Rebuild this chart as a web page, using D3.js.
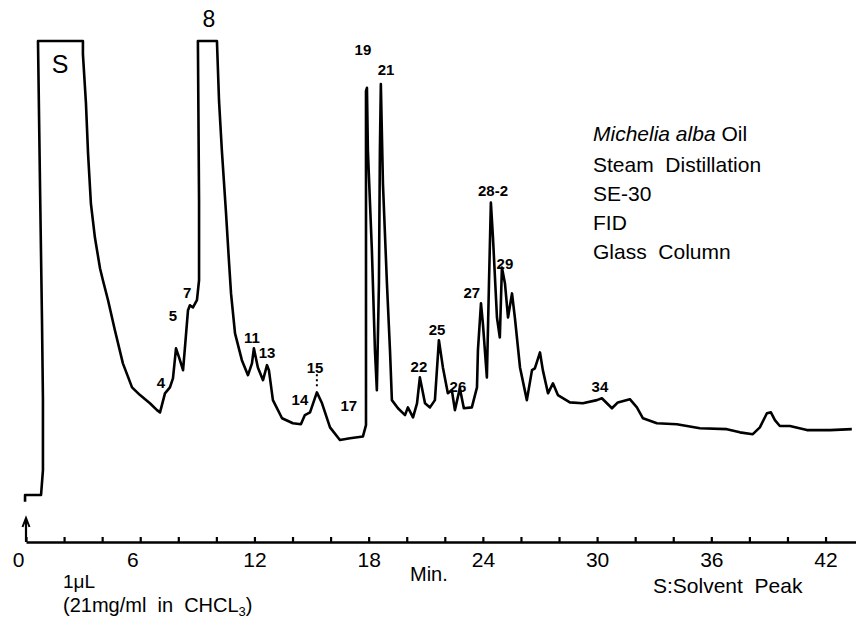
<!DOCTYPE html>
<html>
<head>
<meta charset="utf-8">
<script src="https://cdn.jsdelivr.net/npm/d3@7"></script>
<style>
	body { margin: 0; background: #fff; }
	svg text { font-family: "Liberation Sans", Arial, sans-serif; fill: #000; white-space: pre; }
</style>
</head>
<body>
<svg id="chart"></svg>
<script>
// retention time (min) and detector signal (% of recorder full scale)
const traceTime = [
	-0.05, -0.05, 0.79, 0.89, 0.89, 0.84, 0.74, 0.63, 2.99, 2.99, 3.15, 3.26, 3.41, 3.62, 3.89, 4.04,
	4.31, 4.67, 5.09, 5.57, 5.99, 6.51, 6.88, 7.04, 7.3, 7.56, 7.72, 7.88, 8.04, 8.25, 8.35, 8.51,
	8.61, 8.77, 8.98, 9.09, 9.09, 9.03, 10.03, 10.14, 10.29, 10.5, 10.66, 10.77, 10.98, 11.34, 11.66,
	11.87, 11.97, 12.18, 12.45, 12.66, 12.76, 12.97, 13.45, 14.02, 14.44, 14.65, 14.92, 15.28, 15.55,
	15.97, 16.49, 17.02, 17.7, 17.86, 17.86, 17.91, 17.96, 18.17, 18.33, 18.43, 18.54, 18.59, 18.64,
	18.75, 18.96, 19.12, 19.22, 19.54, 19.91, 20.06, 20.33, 20.54, 20.69, 20.96, 21.22, 21.48, 21.69,
	21.9, 22.16, 22.37, 22.53, 22.79, 23.0, 23.42, 23.69, 23.74, 23.9, 24.0, 24.21, 24.32, 24.42,
	24.53, 24.74, 24.89, 25.0, 25.16, 25.32, 25.53, 25.68, 25.95, 26.31, 26.58, 26.73, 27.0, 27.15,
	27.42, 27.68, 27.94, 28.57, 29.25, 29.99, 30.25, 30.78, 31.09, 31.72, 32.09, 32.41, 33.14, 34.19,
	35.4, 36.82, 37.5, 38.18, 38.55, 38.92, 39.13, 39.34, 39.6, 40.13, 41.02, 42.23, 43.38
]
const traceSignal = [
	-1.5, 0, 0, 5.5, 20.9, 38.5, 67.0, 100, 100, 97.1, 86.2, 75.2, 64.2, 56.7, 49.9, 47.3,
	42.9, 36.3, 29.0, 23.7, 22.0, 20.2, 18.7, 18.2, 22.4, 23.7, 25.7, 32.3, 30.3, 27.5, 32.5, 40.7,
	41.8, 41.3, 42.9, 47.3, 64.8, 100, 100, 86.8, 75.8, 62.6, 51.6, 44.4, 35.6, 29.7, 26.4,
	29.0, 32.3, 28.1, 25.3, 28.6, 27.5, 20.9, 16.9, 15.8, 15.6, 17.6, 18.2, 22.6, 20.2,
	14.9, 12.1, 12.5, 12.9, 15.4, 89.0, 89.7, 75.8, 53.8, 31.9, 23.1, 46.6, 75.8, 90.5,
	68.6, 46.6, 31.9, 20.9, 19.1, 17.6, 19.3, 17.1, 20.2, 25.9, 20.2, 19.3, 20.9, 34.1,
	28.1, 22.4, 23.1, 18.7, 23.5, 19.1, 19.3, 23.7, 31.9, 42.2, 37.8, 25.9, 46.6, 64.4,
	56.7, 39.1, 34.7, 50.1, 46.6, 39.1, 44.4, 39.1, 28.1, 20.9, 27.5, 27.9, 31.4, 27.5,
	22.4, 24.6, 22.0, 20.4, 20.2, 20.9, 21.3, 19.1, 20.4, 21.1, 19.3, 16.9, 15.8, 15.6,
	14.7, 14.5, 13.8, 13.4, 14.9, 18.0, 18.2, 16.5, 15.2, 15.2, 14.3, 14.3, 14.5
]

// peak numbers and where their labels sit (time, signal)
const peakNames = ['S', '8', '4', '5', '7', '11', '13', '14', '15', '17', '19', '21', '22', '25', '26', '27', '28-2', '29', '34']
const peakLabelTime = [1.79, 9.61, 7.09, 7.72, 8.46, 11.87, 12.66, 14.39, 15.18, 16.96, 17.7, 18.91, 20.64, 21.59, 22.69, 23.42, 24.53, 25.16, 30.15]
const peakLabelSignal = [94.9, 104.8, 24.8, 39.6, 44.6, 34.7, 31.4, 21.1, 28.1, 19.8, 98.2, 93.8, 28.4, 36.5, 24.0, 44.6, 67.0, 51.0, 24.0]

const minorTicks = [0, 2, 4, 6, 8, 10, 12, 14, 16, 18, 20, 22, 24, 26, 28, 30, 32, 34, 36, 38, 40, 42]
const majorTicks = [0, 6, 12, 18, 24, 30, 36, 42]

const infoLines = ['Steam  Distillation', 'SE-30', 'FID', 'Glass  Column']

function chromatogram() {
	const width = 856
	const height = 626
	const axisY = 542

	const xScale = d3.scaleLinear().domain([0, 43.6]).range([26, width])
	const yScale = d3.scaleLinear().domain([0, 100]).range([495, 41])

	const svg = d3.select('#chart').attr('width', width).attr('height', height)

	const data = traceTime.map((t, i) => ({ t, v: traceSignal[i] }))

	svg
		.append('path')
		.datum(data)
		.attr('fill', 'none')
		.attr('stroke', '#000')
		.attr('stroke-width', 2.6)
		.attr('stroke-linejoin', 'round')
		.attr('d', d3.line().x(d => xScale(d.t)).y(d => yScale(d.v)))

	// peak labels
	const labels = peakNames.map((name, i) => ({ name, t: peakLabelTime[i], v: peakLabelSignal[i] }))
	svg
		.selectAll('text.peak')
		.data(labels)
		.join('text')
		.attr('class', 'peak')
		.attr('x', d => xScale(d.t))
		.attr('y', d => yScale(d.v))
		.attr('text-anchor', 'middle')
		.attr('dominant-baseline', 'central')
		.attr('font-size', d => (d.name === 'S' ? 25 : d.name === '8' ? 23 : 15))
		.attr('font-weight', d => (d.name === 'S' || d.name === '8' ? 'normal' : 'bold'))
		.text(d => d.name)

	// dotted leader under peak 15
	svg
		.append('line')
		.attr('x1', xScale(15.28))
		.attr('x2', xScale(15.28))
		.attr('y1', yScale(26.6))
		.attr('y2', yScale(23.8))
		.attr('stroke', '#000')
		.attr('stroke-width', 2)
		.attr('stroke-dasharray', '2,3')

	// time axis, ticks pointing up
	const xAxis = d3
		.axisBottom(xScale)
		.tickValues(minorTicks)
		.tickSizeInner(-5)
		.tickSizeOuter(0)
		.tickPadding(10)
		.tickFormat(d => (majorTicks.includes(d) ? d : ''))

	svg
		.append('g')
		.attr('transform', `translate(0,${axisY})`)
		.call(xAxis)
		.call(g => g.attr('font-family', '"Liberation Sans", Arial, sans-serif').attr('font-size', 21))
		.call(g => g.select('.domain').attr('stroke-width', 2.6))
		.call(g => g.selectAll('.tick line').attr('stroke-width', 2.2))
		// the first two labels were written a little left of their marks
		.call(g => g.selectAll('.tick text').attr('dx', d => (d < 7 ? -8 : 0)))

	// injection arrow
	const x0 = xScale(0)
	svg
		.append('line')
		.attr('x1', x0)
		.attr('x2', x0)
		.attr('y1', axisY)
		.attr('y2', axisY - 22)
		.attr('stroke', '#000')
		.attr('stroke-width', 2.2)
	svg
		.append('path')
		.attr('d', `M${x0 - 3.5},${axisY - 15}L${x0},${axisY - 24}L${x0 + 3.5},${axisY - 15}`)
		.attr('fill', 'none')
		.attr('stroke', '#000')
		.attr('stroke-width', 2)

	// sample notes
	const info = svg.append('g').attr('font-size', 21)
	const first = info.append('text').attr('x', 593).attr('y', 141)
	first.append('tspan').attr('font-style', 'italic').text('Michelia alba')
	first.append('tspan').text(' Oil')
	info
		.selectAll('text.line')
		.data(infoLines)
		.join('text')
		.attr('class', 'line')
		.attr('x', 593)
		.attr('y', (d, i) => 171.5 + i * 29.3)
		.text(d => d)

	svg.append('text').attr('x', 410).attr('y', 581).attr('font-size', 20).text('Min.')
	svg.append('text').attr('x', 653).attr('y', 593).attr('font-size', 21).text('S:Solvent  Peak')
	svg.append('text').attr('x', 63).attr('y', 588).attr('font-size', 19).text('1\u03bcL')

	const conc = svg.append('text').attr('x', 63).attr('y', 612).attr('font-size', 20)
	conc.append('tspan').text('(21mg/ml  in  CHCL')
	conc.append('tspan').attr('font-size', 13).attr('dy', 4).text('3')
	conc.append('tspan').attr('dy', -4).text(')')
}

chromatogram()
</script>
</body>
</html>
